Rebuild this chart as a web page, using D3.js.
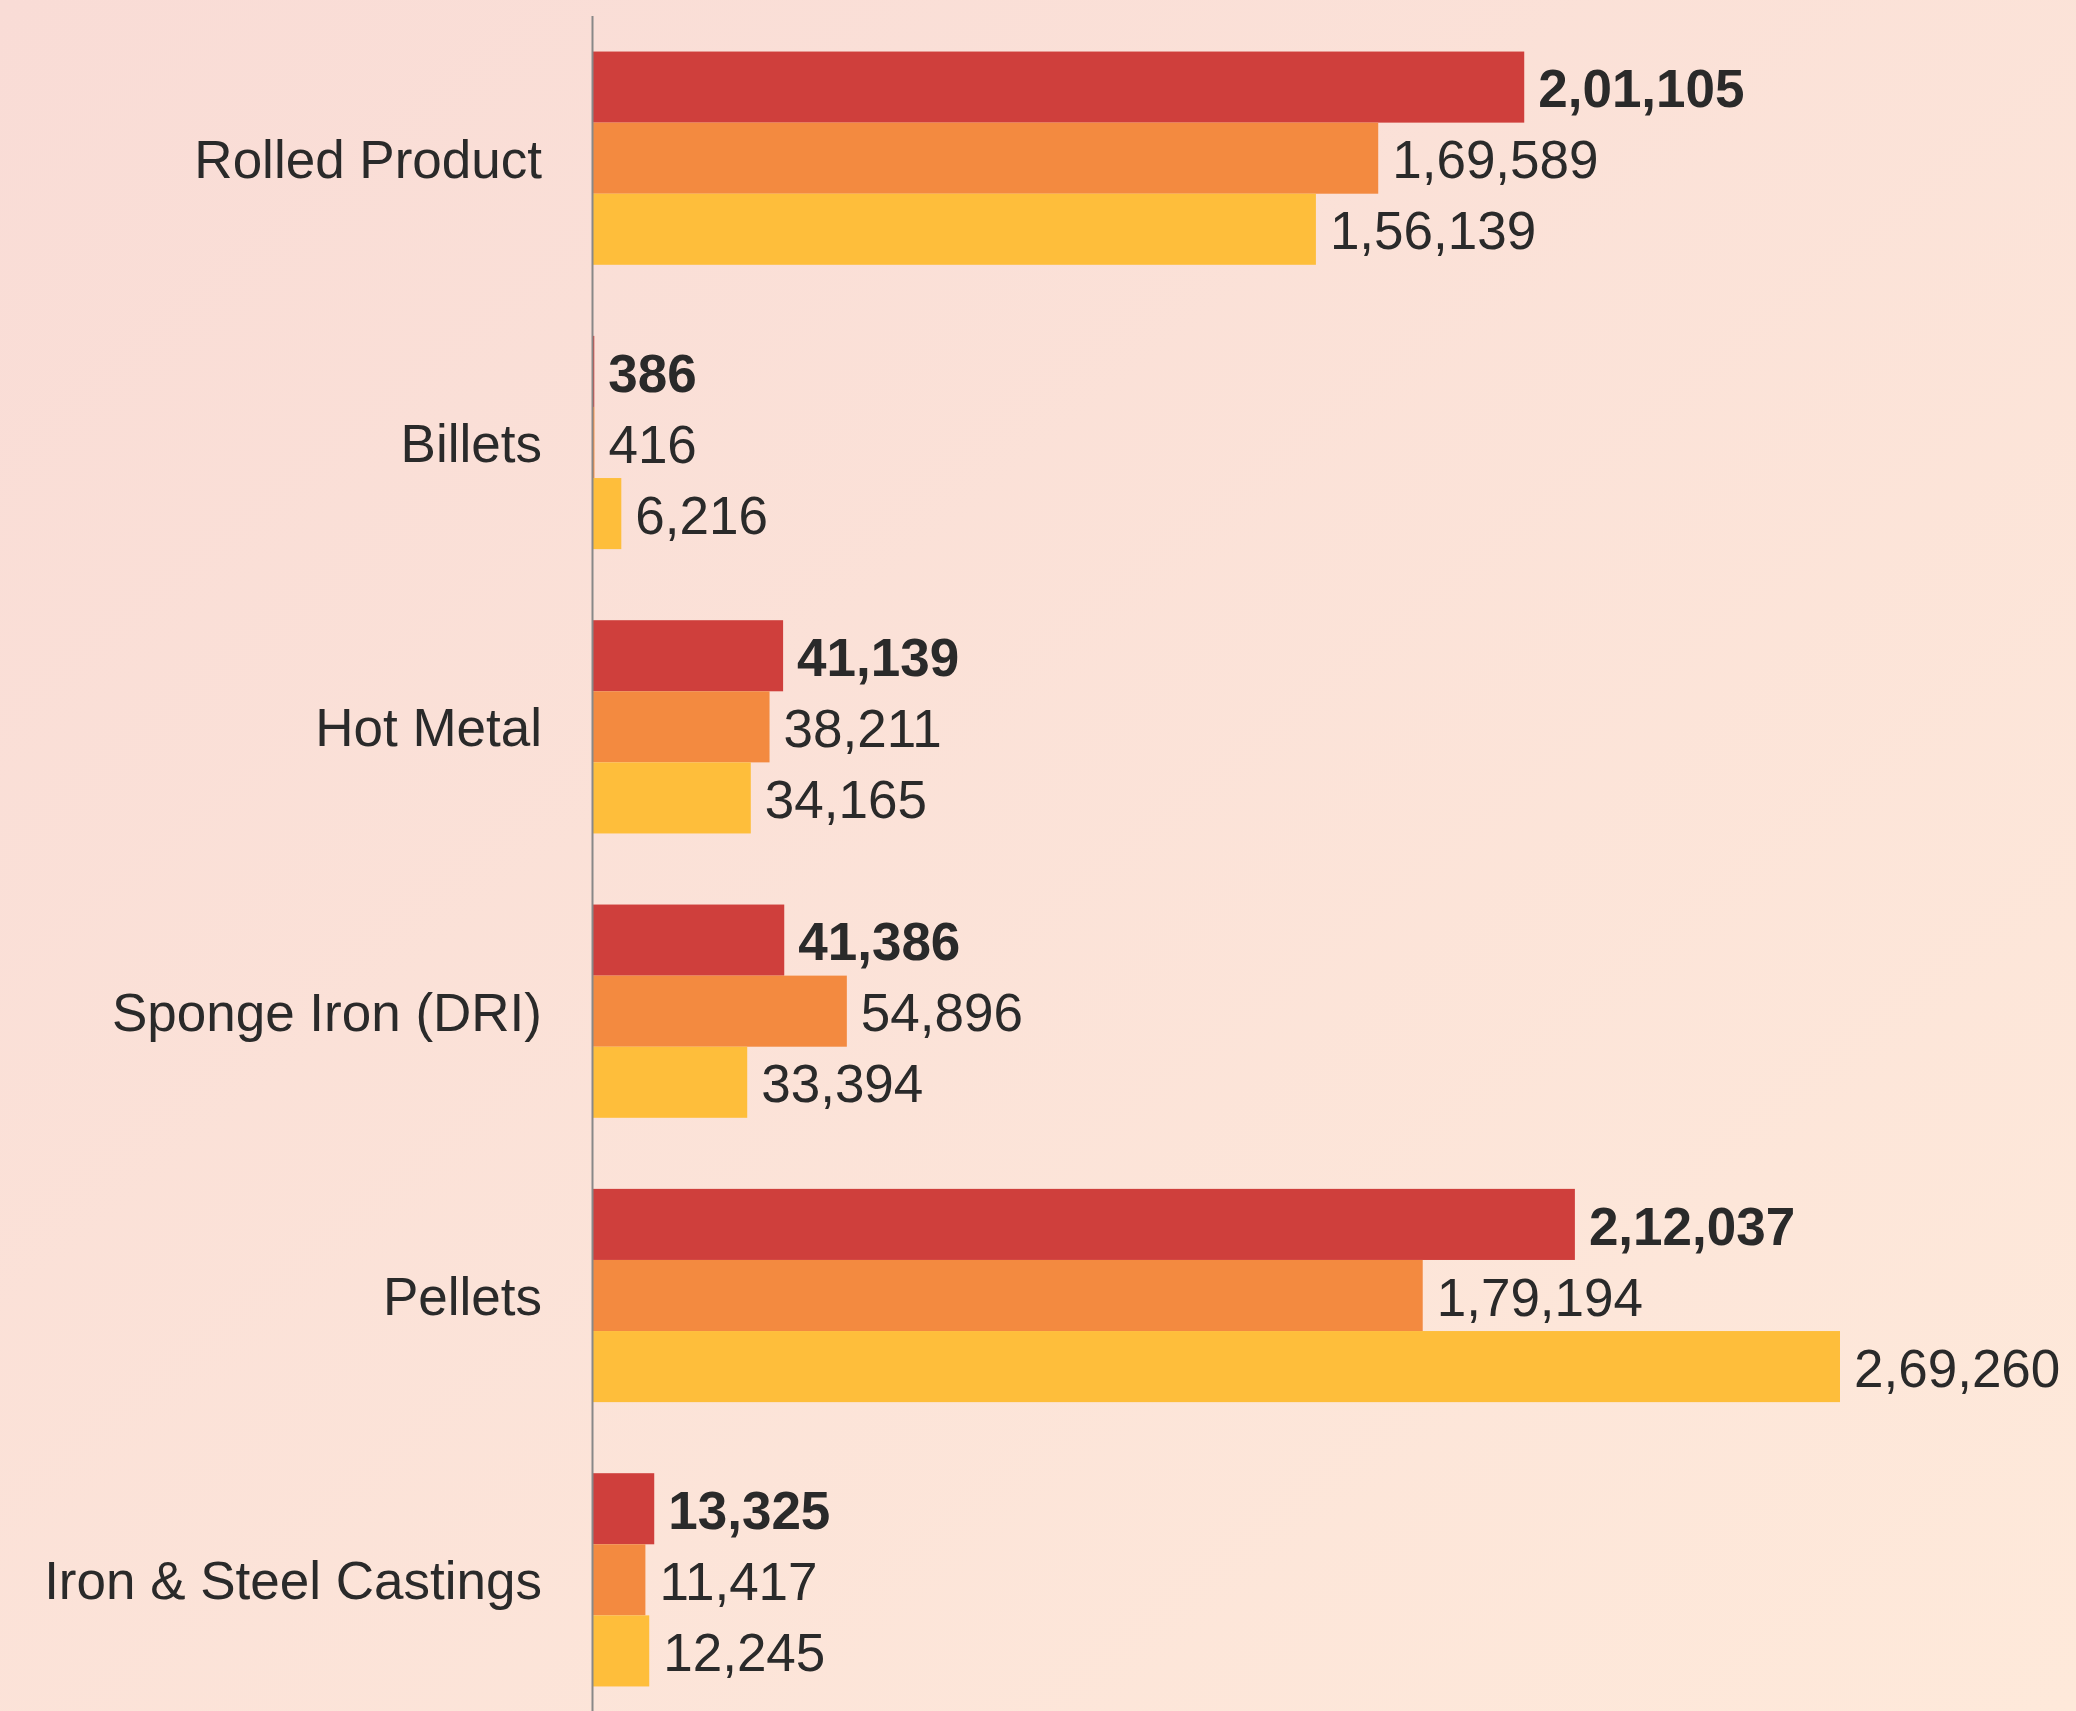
<!DOCTYPE html>
<html lang="en">
<head>
    <meta charset="UTF-8">
    <title>Production by Product</title>
    <script src="https://d3js.org/d3.v7.min.js"></script>
    <style>
        body { margin: 0; background: #fbe3d9; }
        .cat { font-family: "Liberation Sans", Arial, sans-serif; font-size: 53px; fill: #2a2a2a; }
        .val { font-family: "Liberation Sans", Arial, sans-serif; font-size: 53px; fill: #2a2a2a; }
    </style>
</head>
<body>
    <svg id="chart" width="2076" height="1711"></svg>

    <script>
    const categories = ["Rolled Product", "Billets", "Hot Metal", "Sponge Iron (DRI)", "Pellets", "Iron & Steel Castings"];
    const seriesNames = ["s1", "s2", "s3"];
    const s1 = [201105, 386, 41139, 41386, 212037, 13325];
    const s2 = [169589, 416, 38211, 54896, 179194, 11417];
    const s3 = [156139, 6216, 34165, 33394, 269260, 12245];
    const colors = ["#cf3f3c", "#f38a40", "#febe3b"];

    const width = 2076, height = 1711;
    const axisX = 592.5;

    const svg = d3.select("#chart");

    // background gradient
    const defs = svg.append("defs");
    const grad = defs.append("linearGradient")
        .attr("id", "bg")
        .attr("x1", "0%").attr("y1", "0%")
        .attr("x2", "100%").attr("y2", "100%");
    grad.append("stop").attr("offset", "0%").attr("stop-color", "#f9dcd6");
    grad.append("stop").attr("offset", "100%").attr("stop-color", "#fee9da");
    svg.append("rect").attr("width", width).attr("height", height).attr("fill", "url(#bg)");

    // indian digit grouping, e.g. 2,01,105
    function fmtIN(v) {
        const s = String(v);
        if (s.length <= 3) return s;
        const last3 = s.slice(-3);
        const rest = s.slice(0, -3);
        return rest.replace(/\B(?=(\d{2})+(?!\d))/g, ",") + "," + last3;
    }

    const rows = categories.map((c, i) => ({
        cat: c,
        vals: [s1[i], s2[i], s3[i]]
    }));

    const x = d3.scaleLinear().domain([0, 269260]).range([axisX, 1840]);
    const y = d3.scaleBand().domain(categories).range([16, 1722])
        .paddingInner(0.25).paddingOuter(0.125);
    const ySub = d3.scaleBand().domain(seriesNames).range([0, y.bandwidth()]).padding(0);

    const groups = svg.selectAll(".grp")
        .data(rows)
        .enter()
        .append("g")
        .attr("class", "grp")
        .attr("transform", d => `translate(0,${y(d.cat)})`);

    groups.selectAll("rect.bar")
        .data(d => d.vals.map((v, j) => ({ v: v, key: seriesNames[j], j: j })))
        .enter()
        .append("rect")
        .attr("class", "bar")
        .attr("x", axisX)
        .attr("y", d => ySub(d.key))
        .attr("width", d => x(d.v) - axisX)
        .attr("height", ySub.bandwidth())
        .attr("fill", d => colors[d.j]);

    groups.selectAll("text.val")
        .data(d => d.vals.map((v, j) => ({ v: v, key: seriesNames[j], j: j })))
        .enter()
        .append("text")
        .attr("class", "val")
        .attr("x", d => x(d.v) + 14)
        .attr("y", d => ySub(d.key) + ySub.bandwidth() / 2)
        .attr("dy", "0.38em")
        .attr("font-weight", d => d.j === 0 ? "bold" : "normal")
        .text(d => fmtIN(d.v));

    groups.append("text")
        .attr("class", "cat")
        .attr("x", 542)
        .attr("y", y.bandwidth() / 2)
        .attr("dy", "0.37em")
        .attr("text-anchor", "end")
        .text(d => d.cat);

    // axis line
    svg.append("line")
        .attr("x1", axisX).attr("x2", axisX)
        .attr("y1", 16).attr("y2", height)
        .attr("stroke", "#888")
        .attr("stroke-width", 2);
    </script>
</body>
</html>
